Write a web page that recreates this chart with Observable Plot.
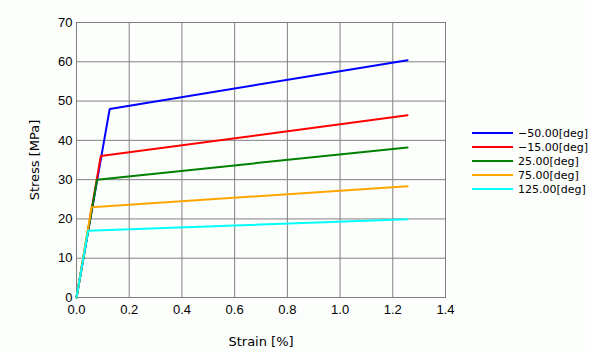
<!DOCTYPE html>
<html>
<head>
<meta charset="utf-8">
<script src="https://cdn.jsdelivr.net/npm/d3@7"></script>
<script src="https://cdn.jsdelivr.net/npm/@observablehq/plot@0.6"></script>
<style>
  html, body { margin: 0; padding: 0; background: #fcfefc; }
  #wrap { position: relative; width: 591px; height: 353px; overflow: hidden; }
  #legend { position: absolute; left: 472px; top: 126px; font: 11px "DejaVu Sans", sans-serif; color: #000; }
  #legend .row { display: flex; align-items: center; height: 14px; }
  #legend svg { margin-right: 5px; }
</style>
</head>
<body>
<div id="wrap"></div>
<script>
// Series: temperature labels, colours and bilinear stress-strain points
const seriesNames = ["\u221250.00[deg]", "\u221215.00[deg]", "25.00[deg]", "75.00[deg]", "125.00[deg]"];
const seriesColors = ["#0000ff", "#ff0000", "#008000", "#ffa500", "#00ffff"];
const strainPts = [
  [0, 0.126, 1.256],
  [0, 0.092, 1.256],
  [0, 0.078, 1.256],
  [0, 0.057, 1.256],
  [0, 0.044, 1.256]
];
const stressPts = [
  [0, 48.0, 60.4],
  [0, 36.0, 46.4],
  [0, 30.0, 38.2],
  [0, 23.0, 28.3],
  [0, 17.0, 19.9]
];
const xTicks = [0, 0.2, 0.4, 0.6, 0.8, 1.0, 1.2, 1.4];
const yTicks = [0, 10, 20, 30, 40, 50, 60, 70];

const data = [];
seriesNames.forEach((name, i) => {
  strainPts[i].forEach((x, j) => data.push({series: name, strain: x, stress: stressPts[i][j]}));
});

const chart = Plot.plot({
  width: 591,
  height: 353,
  marginLeft: 76,
  marginTop: 22,
  marginRight: 146,
  marginBottom: 56,
  style: {background: "#fcfefc", fontFamily: "'Liberation Sans', Arial, sans-serif", fontSize: "13px", color: "#000"},
  x: {domain: [0, 1.4]},
  y: {domain: [0, 70]},
  color: {domain: seriesNames, range: seriesColors},
  marks: [
    Plot.gridX(xTicks, {stroke: "#808080", strokeOpacity: 1}),
    Plot.gridY(yTicks, {stroke: "#808080", strokeOpacity: 1}),
    Plot.frame({stroke: "#808080"}),
    Plot.axisX(xTicks, {tickSize: 0, tickPadding: 7, tickFormat: d3.format(".1f"), label: null}),
    Plot.axisY(yTicks, {tickSize: 0, tickPadding: 4, label: null}),
    Plot.axisX({ticks: [], tickSize: 0, label: "Strain [%]", labelAnchor: "center", labelArrow: "none", labelOffset: 48, fontFamily: "'DejaVu Sans', sans-serif", fontSize: 13}),
    Plot.axisY({ticks: [], tickSize: 0, label: "Stress [MPa]", labelAnchor: "center", labelArrow: "none", labelOffset: 47, fontFamily: "'DejaVu Sans', sans-serif", fontSize: 13}),
    Plot.line(data, {x: "strain", y: "stress", z: "series", stroke: "series", strokeWidth: 2, strokeLinejoin: "miter"})
  ]
});

const wrap = document.getElementById("wrap");
wrap.appendChild(chart);

// Legend (HTML overlay)
const legend = document.createElement("div");
legend.id = "legend";
seriesNames.forEach((name, i) => {
  const row = document.createElement("div");
  row.className = "row";
  row.innerHTML = `<svg width="41" height="4"><line x1="0" x2="41" y1="2" y2="2" stroke="${seriesColors[i]}" stroke-width="2"/></svg><span>${name}</span>`;
  legend.appendChild(row);
});
wrap.appendChild(legend);
</script>
</body>
</html>
